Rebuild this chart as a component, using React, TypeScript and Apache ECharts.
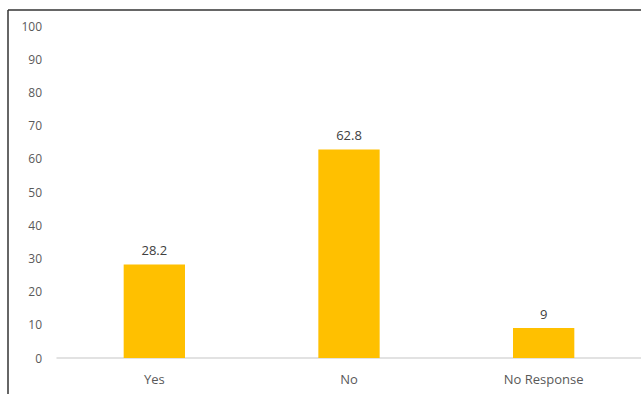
import React, { useEffect, useRef } from "react";
import * as echarts from "echarts";

const categories = ["Yes", "No", "No Response"];
const values = [28.2, 62.8, 9];

export default function App() {
  const ref = useRef<HTMLDivElement>(null);
  useEffect(() => {
    if (!ref.current) return;
    const chart = echarts.init(ref.current, undefined, { renderer: "svg" });
    const font = "Open Sans, Liberation Sans, sans-serif";
    chart.setOption({
      animation: false,
      grid: { left: 57, right: -2, top: 26, bottom: 36, containLabel: false },
      xAxis: {
        type: "category",
        data: categories,
        axisLine: { show: true, lineStyle: { color: "#d9d9d9", width: 1.5 } },
        axisTick: { show: false },
        axisLabel: { color: "#595959", fontSize: 13, fontFamily: font, margin: 14 },
      },
      yAxis: {
        type: "value",
        min: 0,
        max: 100,
        interval: 10,
        axisLine: { show: false },
        axisTick: { show: false },
        splitLine: { show: false },
        axisLabel: { color: "#595959", fontSize: 12, fontFamily: font, margin: 15 },
      },
      series: [
        {
          type: "bar",
          data: values,
          barWidth: "31.5%",
          itemStyle: { color: "#FFC000" },
          label: {
            show: true,
            position: "top",
            distance: 8,
            color: "#404040",
            fontSize: 13,
            fontFamily: font,
          },
        },
      ],
      graphic: [
        {
          type: "line",
          shape: { x1: 8, y1: 10, x2: 8, y2: 394 },
          style: { stroke: "#333", lineWidth: 1.5 },
          silent: true,
        },
        {
          type: "line",
          shape: { x1: 8, y1: 10, x2: 641, y2: 10 },
          style: { stroke: "#333", lineWidth: 1.5 },
          silent: true,
        },
      ],
    });
    return () => chart.dispose();
  }, []);
  return (
    <div
      ref={ref}
      style={{ position: "fixed", left: 0, top: 0, width: 641, height: 394, background: "#fff" }}
    />
  );
}
